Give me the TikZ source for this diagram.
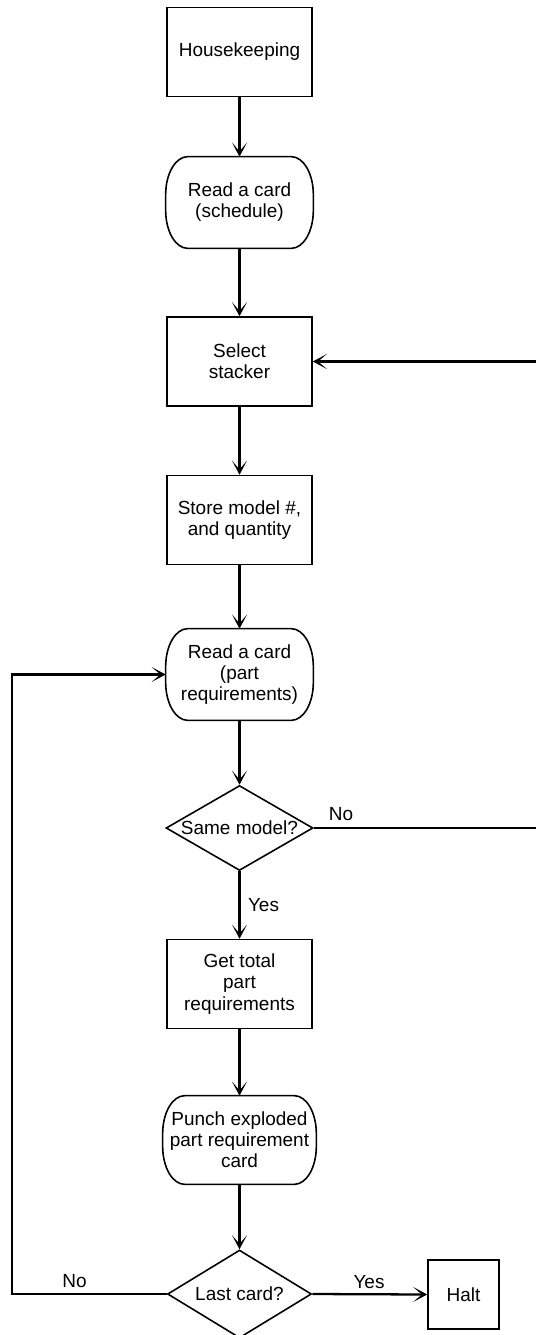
\documentclass[tikz,border=0pt]{standalone}
\usepackage{fontspec}
\setmainfont{Liberation Sans}
\usetikzlibrary{shapes.geometric,arrows.meta}

% outline of a "card" terminal: flat top and bottom, bulging sides
\newcommand\drawcard[1]{%
  \draw[line width=0.9pt]
    ([xshift=0.44cm]#1.north west) -- ([xshift=-0.44cm]#1.north east)
    arc[start angle=90,end angle=0,x radius=0.44cm,y radius=0.76cm]
    -- ([yshift=0.76cm]#1.south east)
    arc[start angle=0,end angle=-90,x radius=0.44cm,y radius=0.76cm]
    -- ([xshift=0.44cm]#1.south west)
    arc[start angle=-90,end angle=-180,x radius=0.44cm,y radius=0.76cm]
    -- ([yshift=-0.76cm]#1.north west)
    arc[start angle=180,end angle=90,x radius=0.44cm,y radius=0.76cm]
    -- cycle;}

\begin{document}
\begin{tikzpicture}[x=0.02cm,y=-0.02cm,
  every node/.style={font=\fontsize{10.8}{12}\selectfont, align=center},
  procbox/.style={draw, line width=0.9pt, minimum width=2.9cm, minimum height=1.78cm, inner sep=0pt},
  cardbox/.style={minimum width=2.94cm, minimum height=1.82cm, inner sep=0pt},
  decision/.style={diamond, draw, line width=0.9pt, inner sep=0pt},
  flow/.style={line width=1.3pt, -{Stealth[length=8pt,width=8.5pt,inset=5pt]}},
  wire/.style={line width=1.3pt},
  lbl/.style={inner sep=0pt}
]
\useasboundingbox (0,0) rectangle (535,1335);

% steps
\node[procbox] (hk) at (239.5,52) {Housekeeping};
\node[cardbox] (rs) at (239.5,202.5) {Read a card\\(schedule)};
\node[procbox] (sel) at (239.5,361.5) {Select\\stacker};
\node[procbox] (store) at (239.5,520) {Store model \#,\\and quantity};
\node[cardbox] (rp) at (239.5,674.5) {Read a card\\(part\\requirements)};
\node[decision, aspect=1.73, minimum width=2.94cm, minimum height=1.7cm] (same) at (239.5,828) {Same model?};
\node[procbox] (get) at (239.5,984) {Get total\\part\\requirements};
\node[cardbox, minimum width=3.06cm, minimum height=1.76cm] (punch) at (239.5,1140) {Punch exploded\\part requirement\\card};
\node[decision, aspect=1.64, minimum width=2.88cm, minimum height=1.76cm] (last) at (239.5,1294) {Last card?};
\node[procbox, minimum width=1.42cm, minimum height=1.38cm] (halt) at (463.5,1294.5) {Halt};

\drawcard{rs}
\drawcard{rp}
\drawcard{punch}

% free ends of the loops
\coordinate (rn) at (536,828);
\coordinate (rsel) at (536,361.5);
\coordinate (lc) at (12,1294);

% main flow
\draw[flow] (hk.south) -- (rs.north);
\draw[flow] (rs.south) -- (sel.north);
\draw[flow] (sel.south) -- (store.north);
\draw[flow] (store.south) -- (rp.north);
\draw[flow] (rp.south) -- (same.north);
\draw[flow] (same.south) -- (get.north);
\draw[flow] (get.south) -- (punch.north);
\draw[flow] (punch.south) -- (last.north);
\draw[flow] (last.east) -- (halt.west);

% branches
\draw[wire] (same.east) -- (rn);
\draw[flow] (rsel) -- (sel.east);
\draw[flow] (last.west) -- (lc) |- (rp.west);

% branch labels
\node[lbl] (no1) at (341,814) {No};
\node[lbl] (yes1) at (263.5,905) {Yes};
\node[lbl] (no2) at (74.5,1281.5) {No};
\node[lbl] (yes2) at (369,1282) {Yes};
\end{tikzpicture}
\end{document}
